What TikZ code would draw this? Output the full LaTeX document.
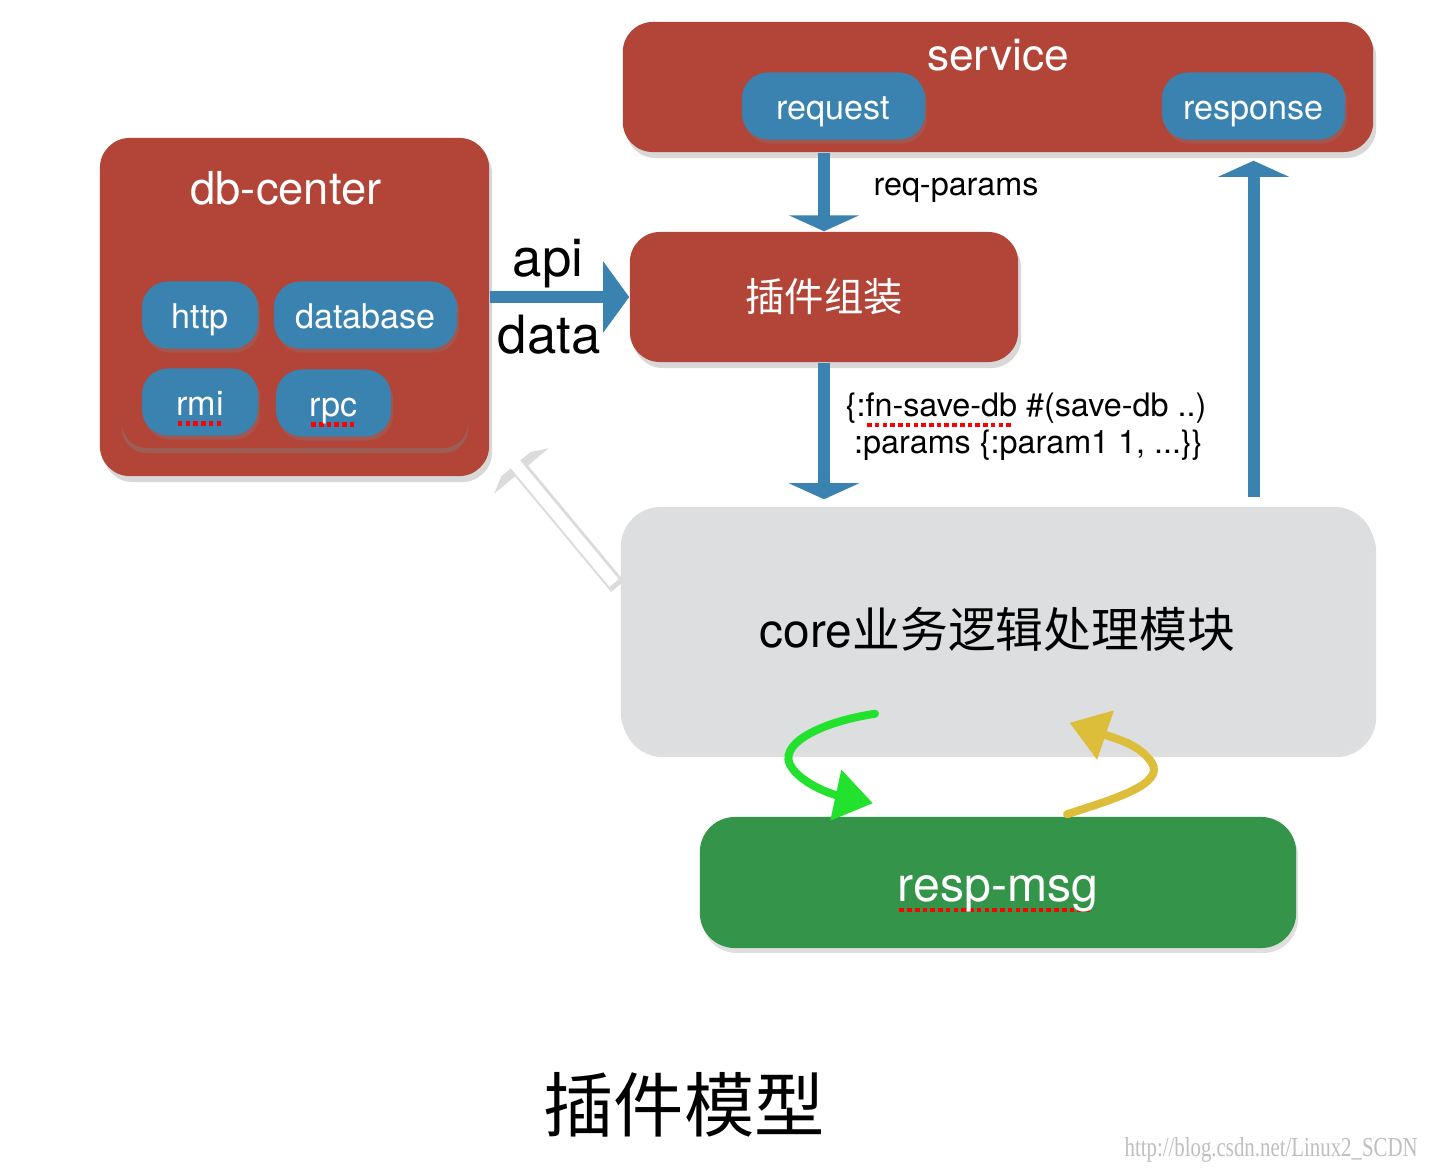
\documentclass[tikz,border=0pt]{standalone}
\usepackage{fontspec}
\setmainfont{TeX Gyre Heros}
\newfontfamily\cjk{Noto Sans CJK SC}
\newfontfamily\wmfont{Liberation Serif}
\usetikzlibrary{arrows.meta,shadows}
\definecolor{boxred}{RGB}{178,69,56}
\definecolor{pillblue}{RGB}{58,130,175}
\definecolor{coregray}{RGB}{221,222,224}
\definecolor{msggreen}{RGB}{52,148,74}
\definecolor{chalkgreen}{RGB}{34,226,46}
\definecolor{chalkyellow}{RGB}{221,190,58}
% red dotted spell-check line under a word
\newcommand\spell[1]{\setbox0\hbox{#1}\rlap{\raisebox{-2.4pt}{\color{red}\hbox to \wd0{\leaders\hbox to 2.2pt{\hss\vrule width 1.3pt height 0.6pt depth 0.6pt\hss}\hfill}}}#1}

\begin{document}
\begin{tikzpicture}[x=0.01cm, y=-0.01cm,
    redbox/.style={fill=boxred, rounded corners=3mm, drop shadow={opacity=0.3, shadow xshift=0.3mm, shadow yshift=-0.6mm}},
    pill/.style={fill=pillblue, rounded corners=2.6mm, text=white, minimum height=6.7mm, text height=7.6pt, text depth=0.2pt, font=\fontsize{9.7}{11}\selectfont, drop shadow={opacity=0.3, shadow xshift=0.2mm, shadow yshift=-0.4mm}},
    flow/.style={draw=pillblue, line width=1.2mm, -{Triangle[width=7mm, length=1.6mm]}},
    chalk/.style={line width=0.8mm, line cap=round, -{Triangle[width=5mm, length=3.8mm]}}]
    \fill[white] (0,0) rectangle (1440,1170);
    \useasboundingbox (0,0) rectangle (1440,1170);

    % service with request / response
    \node[redbox, minimum width=75mm, minimum height=13mm] (service) at (998,87) {};
    \node[text=white, anchor=base, font=\fontsize{12.6}{14}\selectfont] (servicetxt) at (998,71) {service};
    \node[pill, minimum width=18.3mm] (request) at (833.5,106) {request};
    \node[pill, minimum width=18.3mm] (response) at (1253.5,106) {response};

    % db-center
    \node[redbox, minimum width=38.9mm, minimum height=33.8mm] (dbcenter) at (294.5,307) {};
    \node[text=white, anchor=base, font=\fontsize{12.9}{14}\selectfont] (dbtxt) at (286,205) {db-center};
    \node[fill=boxred, rounded corners=2.5mm, minimum width=34.6mm, minimum height=16.8mm, drop shadow={opacity=0.45, shadow xshift=0mm, shadow yshift=-0.5mm}] (dbinner) at (295,364) {};
    \foreach \n/\x/\y/\w/\t in {http/200/315/11.6/http, database/365.5/315/18.3/database, rmi/200/402/11.6/\spell{rmi}, rpc/333.5/403/11.5/\spell{rpc}}{
        \node[pill, minimum width=\w mm] (\n) at (\x,\y) {\t};
    }

    % plugin, core, resp-msg
    \node[redbox, minimum width=38.8mm, minimum height=13mm, text=white, font=\cjk\fontsize{11.2}{13}\selectfont] (plugin) at (824,297) {插件组装};
    \node[fill=coregray, rounded corners=4mm, minimum width=75.3mm, minimum height=24.5mm, font=\fontsize{13.6}{15}\selectfont, drop shadow={opacity=0.25, shadow xshift=0.2mm, shadow yshift=-0.5mm}] (core) at (997.5,629.5) {core{\cjk 业务逻辑处理模块}};
    \node[fill=msggreen, rounded corners=3.5mm, minimum width=59.6mm, minimum height=13.1mm, text=white, text height=11.2pt, text depth=0.2pt, font=\fontsize{13.7}{15}\selectfont, drop shadow={opacity=0.25, shadow xshift=0.2mm, shadow yshift=-0.5mm}] (respmsg) at (998,882.5) {\spell{resp-msg}};

    % blue flows
    \draw[flow] (plugin.north |- service.south) -- (plugin.north);
    \draw[flow, -{Triangle[width=7mm, length=2.6mm]}] (dbcenter.east |- plugin.west) -- (plugin.west);
    \draw[flow, shorten >=0.7mm] (plugin.south) -- (plugin.south |- core.north);
    \draw[flow, shorten <=0.9mm, shorten >=0.8mm] (response.south |- core.north) -- (response.south |- service.south);

    \node[font=\fontsize{9.2}{11}\selectfont] (reqtxt) at (956,190) {req-params};
    \node[anchor=base, font=\fontsize{15}{17}\selectfont] (apitxt) at (548,276) {api};
    \node[anchor=base, font=\fontsize{15}{17}\selectfont] (datatxt) at (549,353) {data};
    \node[anchor=north west, inner sep=0pt, align=left, font=\fontsize{9.2}{10.5}\selectfont] (calltxt) at (845,392)
        {\{:\spell{fn-save-db} \#(save-db ..)\\\hspace{2.4pt}:params \{:param1 1, ...\}\}};

    % white arrow back to db-center
    \coordinate (wbase) at ([xshift=-0.6mm, yshift=4.65mm]core.west);
    \coordinate (wtip) at ([xshift=1.6mm, yshift=2.4mm]dbcenter.south east);
    \draw[black!14, line width=1.7mm, -{Triangle[width=7mm, length=1.9mm]}, transform canvas={xshift=0.35mm, yshift=-0.35mm}] (wbase) -- (wtip);
    \draw[white, line width=1.2mm, -{Triangle[width=6.4mm, length=1.5mm]}] (wbase) -- (wtip);

    % chalk loops
    \coordinate (gstart) at ([xshift=-12.25mm, yshift=3.9mm]core.south);
    \coordinate (gend) at ([xshift=-12.5mm, yshift=1.3mm]respmsg.north);
    \draw[chalk, chalkgreen] (gstart) .. controls (820,722) and (775,745) .. (792,768) .. controls (805,786) and (835,795) .. (gend);
    \coordinate (ystart) at ([xshift=6.9mm, yshift=0.2mm]respmsg.north);
    \coordinate (yend) at ([xshift=7.2mm, yshift=3mm]core.south);
    \draw[chalk, chalkyellow] (ystart) .. controls (1110,800) and (1165,785) .. (1152,763) .. controls (1140,745) and (1120,740) .. (yend);

    % caption
    \node[font=\cjk\fontsize{20}{24}\selectfont] (title) at (684,1105) {插件模型};
    \node[anchor=east, text=black!25, font=\wmfont\fontsize{7.8}{9}\selectfont] (mark) at (1430,1150) {\scalebox{0.76}[1]{http://blog.csdn.net/Linux2\_SCDN}};
\end{tikzpicture}
\end{document}
